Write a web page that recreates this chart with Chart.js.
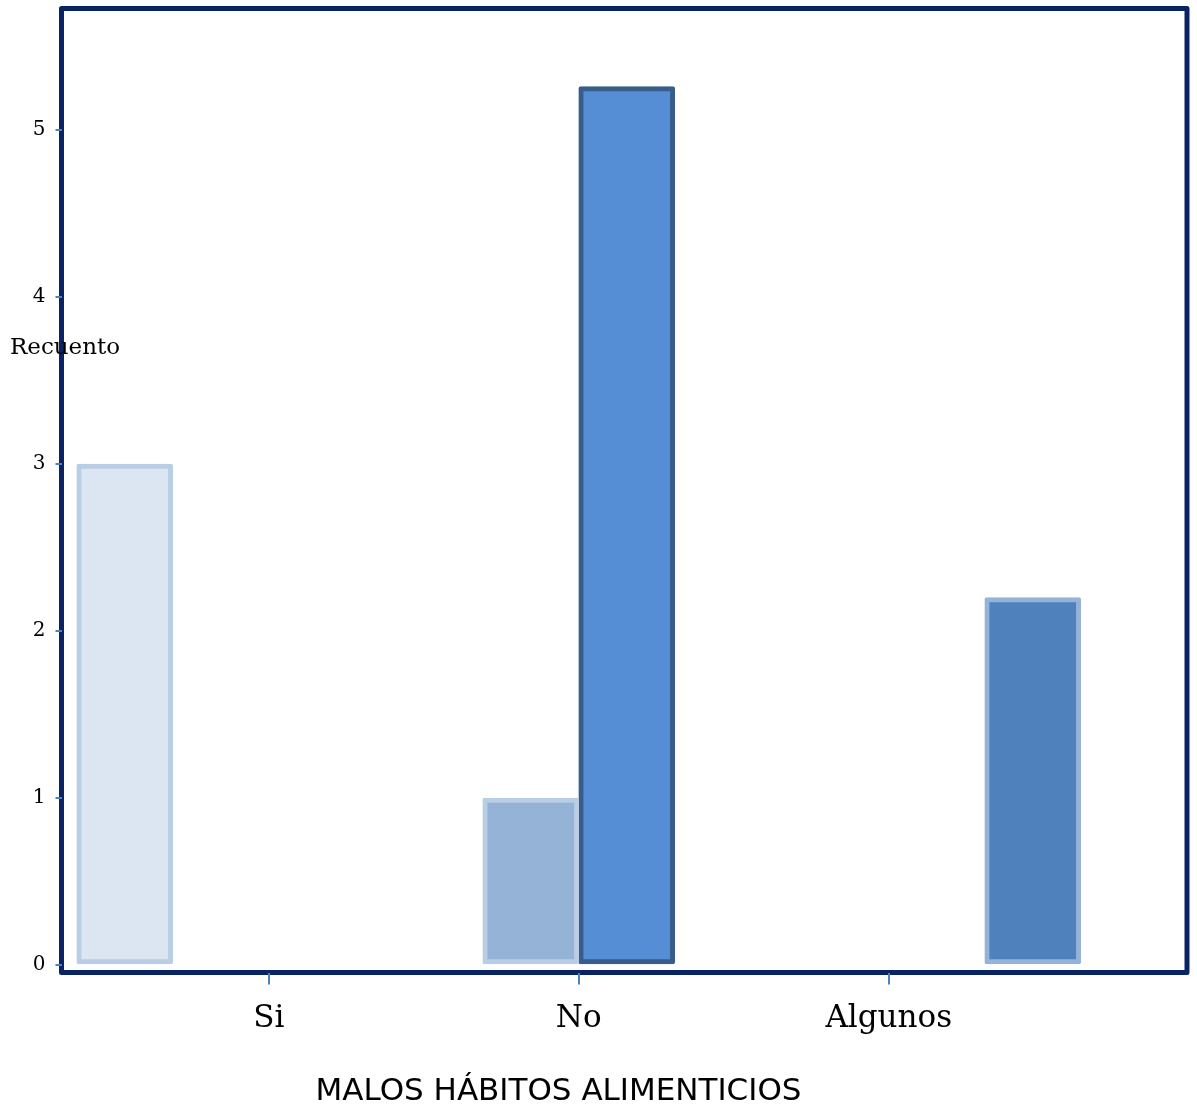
<!DOCTYPE html>
<html lang="es">
<head>
<meta charset="utf-8">
<title>Malos hábitos alimenticios</title>
<script src="https://cdn.jsdelivr.net/npm/chart.js@4.4.1/dist/chart.umd.min.js"></script>
<style>
  html, body { margin: 0; padding: 0; background: #ffffff; }
  #wrap { width: 1197px; height: 1112px; }
</style>
</head>
<body>
<div id="wrap"><canvas id="chart" width="1197" height="1112"></canvas></div>
<script>
// Categories of the x axis
const categories = ['Si', 'No', 'Algunos'];

// Counts per group (null = no bar in that category)
const grupo1 = [3, null, null];
const grupo2 = [null, 1, null];
const grupo3 = [null, 5.26, null];
const grupo4 = [null, null, 2.2];

// Tick values of the count axis
const yTicks = [0, 1, 2, 3, 4, 5];

const xTitle = 'MALOS HÁBITOS ALIMENTICIOS';
const yTitle = 'Recuento';

const toPoints = arr => categories.map((c, i) => ({ x: i, y: arr[i] }));

function dataset(values, fill, stroke) {
  return {
    data: toPoints(values),
    backgroundColor: fill,
    borderColor: stroke,
    borderWidth: 5,
    borderRadius: 2,
    borderSkipped: false,
    barThickness: 96
  };
}

// Dark frame around the plot area, painted beneath ticks and bars
const framePlugin = {
  id: 'plotFrame',
  beforeDraw(chart) {
    const { ctx, chartArea: a } = chart;
    ctx.save();
    ctx.strokeStyle = '#0a2463';
    ctx.lineWidth = 5;
    ctx.lineJoin = 'round';
    ctx.strokeRect(a.left, a.top, a.right - a.left, a.bottom - a.top);
    ctx.restore();
  }
};

// Axis captions: horizontal count caption on the left, category caption below
const captionPlugin = {
  id: 'axisCaptions',
  afterDraw(chart) {
    const { ctx, chartArea: a } = chart;
    ctx.save();
    ctx.fillStyle = '#000000';
    ctx.textBaseline = 'middle';
    ctx.textAlign = 'left';
    ctx.font = '23px "DejaVu Serif"';
    ctx.fillText(yTitle, 10, a.top + 340);
    ctx.textAlign = 'center';
    ctx.font = '31px "DejaVu Sans"';
    ctx.fillText(xTitle, a.left + 497, a.bottom + 119);
    ctx.restore();
  }
};

new Chart(document.getElementById('chart'), {
  type: 'bar',
  data: {
    datasets: [
      dataset(grupo1, '#dce6f2', '#b9cde5'),
      dataset(grupo2, '#95b3d7', '#b9cde5'),
      dataset(grupo3, '#558ed5', '#385d8a'),
      dataset(grupo4, '#4f81bd', '#95b3d7')
    ]
  },
  options: {
    responsive: false,
    animation: false,
    devicePixelRatio: 1,
    layout: { padding: { top: 8.5, right: 10, left: 0, bottom: 0 } },
    plugins: {
      legend: { display: false },
      tooltip: { enabled: false }
    },
    scales: {
      x: {
        type: 'linear',
        min: -0.6685,
        max: 2.962,
        offset: false,
        afterFit: s => {
          s.height = 139.5;
          s.paddingLeft = 0;
          s.paddingRight = 0;
        },
        afterBuildTicks: s => {
          s.ticks = categories.map((c, i) => ({ value: i }));
        },
        ticks: {
          stepSize: 1,
          autoSkip: false,
          maxRotation: 0,
          padding: 16,
          color: '#000000',
          font: { family: '"DejaVu Serif"', size: 31 },
          callback: v => categories[v]
        },
        grid: {
          offset: false,
          drawOnChartArea: false,
          tickLength: 12,
          color: '#4f81bd',
          lineWidth: 2
        },
        border: { display: false }
      },
      y: {
        min: -0.045,
        max: 5.728,
        afterFit: s => {
          s.width = 61.5;
          s.paddingTop = 0;
          s.paddingBottom = 0;
        },
        afterBuildTicks: s => {
          s.ticks = yTicks.map(v => ({ value: v }));
        },
        ticks: {
          stepSize: 1,
          padding: 10,
          color: '#000000',
          font: { family: '"DejaVu Serif"', size: 20 }
        },
        grid: {
          drawOnChartArea: false,
          tickLength: 6,
          color: '#4f81bd',
          lineWidth: 2
        },
        border: { display: false }
      }
    }
  },
  plugins: [framePlugin, captionPlugin]
});
</script>
</body>
</html>
